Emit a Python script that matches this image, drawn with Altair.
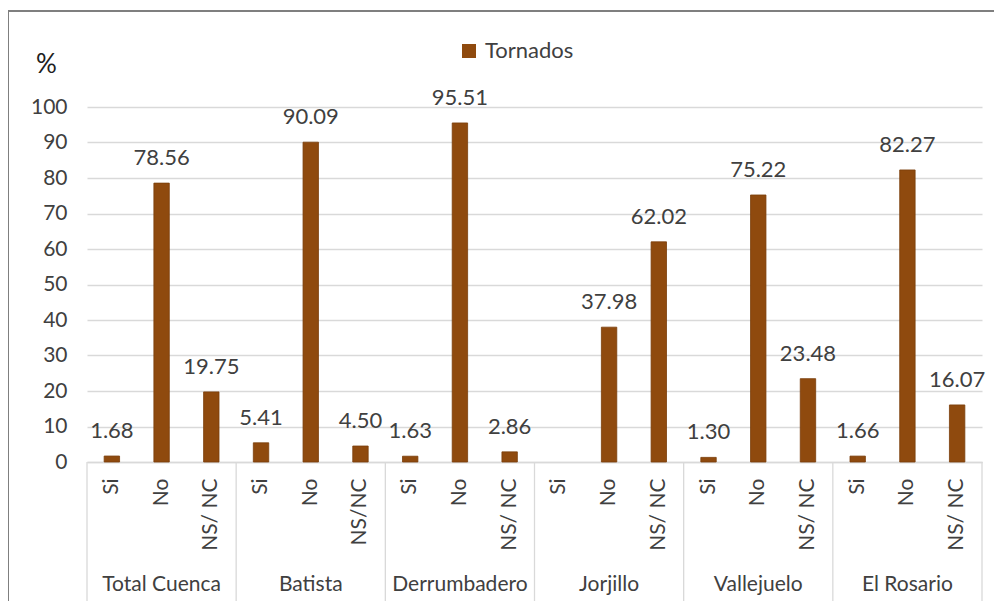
import altair as alt
import pandas as pd

groups = ["Total Cuenca", "Batista", "Derrumbadero", "Jorjillo", "Vallejuelo", "El Rosario"]
cat_si = ["Si", "Si", "Si", "Si", "Si", "Si"]
cat_no = ["No", "No", "No", "No", "No", "No"]
cat_ns = ["NS/ NC", "NS/NC", "NS/ NC", "NS/ NC", "NS/ NC", "NS/ NC"]
val_si = [1.68, 5.41, 1.63, None, 1.30, 1.66]
val_no = [78.56, 90.09, 95.51, 37.98, 75.22, 82.27]
val_ns = [19.75, 4.50, 2.86, 62.02, 23.48, 16.07]
series_name = "Tornados"
y_ticks = [0, 10, 20, 30, 40, 50, 60, 70, 80, 90, 100]

rows = []
for g, cs, cn, cx, vs, vn, vx in zip(groups, cat_si, cat_no, cat_ns, val_si, val_no, val_ns):
    for c, v in ((cs, vs), (cn, vn), (cx, vx)):
        rows.append({"group": g, "cat": c, "key": g + "|" + c, "value": v, "series": series_name})
df = pd.DataFrame(rows)
keys = list(df["key"])
df_bars = df.dropna(subset=["value"])

first_keys = pd.DataFrame({"key": [keys[i * 3] for i in range(len(groups))]})
last_key = pd.DataFrame({"key": [keys[-1]]})
mid_keys = pd.DataFrame({"key": [keys[i * 3 + 1] for i in range(len(groups))], "group": groups})

FONT = "Lato"
TXT = "#404040"
BAR = "#8F4A0E"
W, H = 895, 355

xscale = alt.Scale(domain=keys, paddingInner=0, paddingOuter=0)
yscale = alt.Scale(domain=[0, 100], nice=False, zero=True)

X_AXIS = alt.Axis(title=None, labelExpr="split(datum.value, '|')[1]", labelAngle=-90,
                  labelAlign="right", labelBaseline="middle", labelPadding=16, ticks=False,
                  domainColor="#d9d9d9", domainWidth=1.3, labelFont=FONT, labelFontSize=21,
                  labelColor=TXT, grid=False, labelOverlap=False)
Y_AXIS = alt.Axis(values=y_ticks, labelOverlap=False, title="%", titleAngle=0,
                  titleX=-41, titleY=-43,
                  titleAlign="center", titleBaseline="middle", titleFont=FONT,
                  titleFontSize=26, titleFontWeight="normal", titleColor="#202020",
                  labelFont=FONT, labelFontSize=21, labelColor=TXT, labelPadding=20,
                  ticks=False, domain=False, grid=True, gridColor="#d9d9d9", gridWidth=1.3)


def xenc(**kw):
    return alt.X("key:N", sort=keys, scale=xscale, axis=X_AXIS, **kw)


def yenc():
    return alt.Y("value:Q", scale=yscale, axis=Y_AXIS)


base = alt.Chart(df_bars)

bars = base.mark_bar(width=alt.RelativeBandSize(0.31), stroke="#7a3d0a", strokeWidth=0.8).encode(
    x=xenc(),
    y=yenc(),
    color=alt.Color("series:N", scale=alt.Scale(range=[BAR]),
                    legend=alt.Legend(title=None, orient="none", legendX=371, legendY=-67,
                                      symbolType="square", symbolSize=196, symbolStrokeWidth=0,
                                      labelFont=FONT, labelFontSize=22, labelColor=TXT,
                                      labelOffset=5, padding=0)),
)

labels = base.mark_text(font=FONT, fontSize=22, color=TXT, baseline="middle", dy=-25).encode(
    x=xenc(),
    y=yenc(),
    text=alt.Text("value:Q", format=".2f"),
)

div_start = alt.Chart(first_keys).mark_rule(color="#d9d9d9", strokeWidth=1.3).encode(
    x=xenc(bandPosition=0),
    y=alt.value(H), y2=alt.value(H + 140),
)
div_end = alt.Chart(last_key).mark_rule(color="#d9d9d9", strokeWidth=1.3).encode(
    x=xenc(bandPosition=1),
    y=alt.value(H), y2=alt.value(H + 140),
)
group_text = alt.Chart(mid_keys).mark_text(font=FONT, fontSize=21, color=TXT, baseline="middle").encode(
    x=xenc(),
    y=alt.value(H + 123),
    text="group:N",
)

border = alt.Chart(pd.DataFrame({"b": [0]})).mark_rect(fill=None, stroke="#7f7f7f", strokeWidth=2).encode(
    x=alt.value(-79), y=alt.value(-96), x2=alt.value(930), y2=alt.value(530),
)

chart = alt.layer(border, bars, labels, div_start, div_end, group_text).properties(
    width=W, height=H,
    autosize=alt.AutoSizeParams(type="none"),
    padding={"left": 79, "top": 99, "right": 12, "bottom": 139},
    background="white",
).configure_view(stroke="transparent", strokeWidth=0)

chart.save("out.html", embed_options={"renderer": "svg", "actions": False})
